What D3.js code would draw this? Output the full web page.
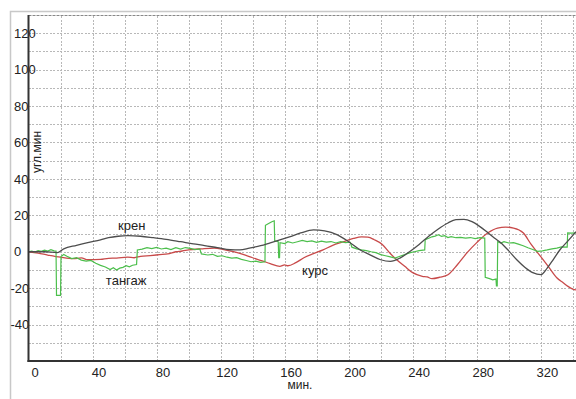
<!DOCTYPE html>
<html>
<head>
<meta charset="utf-8">
<script src="https://cdn.jsdelivr.net/npm/d3@7"></script>
<style>
  body { margin: 0; background: #fff; }
  svg { display: block; font-family: "Liberation Sans", Arial, sans-serif; }
  .grid line { stroke: #b8b8b8; stroke-dasharray: 2,1.5; shape-rendering: crispEdges; }
  .grid path { display: none; }
  .lbl { font-size: 13px; fill: #222; }
</style>
</head>
<body>
<script>
// axis ticks
var xTicks = [0, 40, 80, 120, 160, 200, 240, 280, 320];
var yTicks = [-40, -20, 0, 20, 40, 60, 80, 100, 120];
var xGrid = [20, 40, 60, 80, 100, 120, 140, 160, 180, 200, 220, 240, 260, 280, 300, 320, 340];
var yGrid = [-50, -40, -30, -20, -10, 0, 10, 20, 30, 40, 50, 60, 70, 80, 90, 100, 110, 120];

// крен (black)
var kren = [[0,0],[10,0],[18,-0.5],[22,1.6],[30,3.5],[37,5],[45,6.5],[50,7.7],[56,8.5],[62,8.8],
  [70,8.5],[78,7.7],[86,6.8],[95,5.5],[103,4.3],[110,3.4],[118,2.2],[126,1.1],[132,1],[138,2],
  [145,3.3],[151,4.9],[157,6.5],[163,8.2],[170,10.3],[178,12],[185,11.5],[193,9.3],[200,5.5],
  [207,1.1],[214,-2],[220,-4.4],[226,-5.3],[232,-3.5],[238,0],[244,4],[250,8.5],[256,12.5],
  [262,15.8],[267,17.6],[272,17.8],[277,16.5],[282,13.8],[287,10.4],[291,7.5],[295,5],[300,0.5],
  [305,-4.4],[310,-8.5],[315,-11.5],[320,-12.6],[324,-9],[328,-4],[332,1.1],[337,6],[342,11]];

// курс (red)
var kurs = [[0,0],[6,-0.8],[12,-1.8],[20,-3],[28,-3.8],[33,-3.4],[37,-4.4],[45,-4.2],[50,-3.6],
  [55,-3.5],[62,-3],[66,-3.3],[70,-2.5],[76,-2.1],[82,-1.6],[87,-1.2],[92,0],[96,0.4],[100,1],
  [108,1.6],[116,2],[122,1.2],[128,0],[134,-1.5],[140,-3.3],[146,-5],[151,-6.5],[157,-8],
  [160,-7.2],[162,-7.7],[167,-6],[172,-3.3],[178,-1],[184,1],[190,3.5],[197,5.5],[203,7.3],
  [208,8.2],[212,8],[216,6.6],[221,4],[226,-1],[230,-4.4],[235,-8],[240,-11.5],[246,-13.5],
  [249,-13.8],[252,-14.8],[257,-14],[262,-12.6],[268,-7],[274,-0.5],[280,5],[287,10.4],[293,13],
  [298,13.5],[303,13],[309,10.4],[314,4],[320,-2.7],[325,-8.5],[330,-14.3],[334,-17],[337,-19],
  [340,-20.5],[342,-21]];

// тангаж (green)
var tangazh = [[0,0],[2,0.4],[4,-0.2],[6,0.6],[8,0.2],[10,0.9],[12,0.4],[14,1.1],[16,0.5],
  [17.2,0.4],[17.5,-24],[20,-24],[20.3,-2.7],[22,-1.5],[24,-2.5],[27,-3.8],[30,-3.3],[33,-4.6],
  [36,-5.2],[39,-4.8],[42,-6.3],[45,-7.5],[48,-8.4],[51,-9.8],[53,-8.8],[55,-10],[57,-9],
  [59,-8.6],[61,-7.7],[63,-8.3],[65,-7.4],[67.5,-7],[68,1],[71,1.4],[74,2.2],[77,1.7],[80,2.4],
  [83,1.5],[86,2],[89,1.2],[92,2.2],[95,1.5],[98,2.3],[101,1.8],[104,1.2],[107,1.6],[108,-1.2],
  [112,-1.8],[115,-1.4],[118,-2.5],[121,-2.2],[124,-3],[127,-3.5],[130,-3.2],[133,-4.2],
  [136,-4.8],[139,-5.5],[142,-5.2],[145,-5.8],[147.7,-5.5],[148,14.5],[150,15.5],[152,16.5],
  [153.5,17],[153.8,6],[156,5.5],[156.3,-3.3],[156.8,-3.3],[157.1,5],[160,4.5],[162,5.5],
  [165,4.8],[168,5.5],[171,6.2],[174,5.6],[177,6],[180,5.2],[183,5.8],[186,5.3],[189,5.6],
  [192,4.8],[195,5.5],[198,5],[201,5.2],[202,2.5],[205,1.6],[208,1],[211,0.6],[214,0],
  [217,-0.5],[220,-1.6],[223,-2.2],[226,-2.8],[229,-3.5],[232,-2.5],[235,-1.6],[238,-0.6],
  [241,0],[244,0.6],[247.5,1],[247.8,6.6],[250,7.4],[252,8.2],[254,8.6],[256,9.3],[258,8.5],
  [260,8.8],[262,7.8],[264,8.3],[267,7.7],[270,7.9],[273,7.5],[276,7.8],[279,7.2],[282,7.7],
  [285,7.5],[285.3,-14],[288,-14.8],[290,-15.4],[292,-15],[292.3,-18.7],[292.8,-18.7],
  [293.1,5.5],[295,4.8],[297,5.5],[300,4.8],[303,5],[306,4.2],[309,3.3],[312,2.2],[315,1.2],
  [318,0.2],[321,0.5],[324,1],[327,1.6],[330,2],[333,2.7],[336.5,2.5],[336.8,10.4],[339,10.2],
  [342,10.4]];

// text labels for series: [name, x, y]
var seriesLabels = [["крен", 64.5, 12], ["тангаж", 61, -18], ["курс", 179, -12.8]];

var W = 576, H = 399;
var padL = 28.5, padT = 15, padB = 361;

var svg = d3.select("body").append("svg").attr("width", W).attr("height", H);

var x = d3.scaleLinear().domain([0, 342]).range([padL, W]);
var y = d3.scaleLinear().domain([-60, 130]).range([padB, padT]);

// outer frame
svg.append("rect").attr("x", 10.5).attr("y", 11.5).attr("width", W).attr("height", H)
  .attr("fill", "none").attr("stroke", "#c8c8c8").attr("stroke-width", 1.5);

// grid
svg.append("g").attr("class", "grid")
  .attr("transform", "translate(" + padL + ",0)")
  .call(d3.axisLeft(y).tickValues(yGrid).tickSize(-(W - padL)).tickFormat(""));
svg.append("g").attr("class", "grid")
  .attr("transform", "translate(0," + padB + ")")
  .call(d3.axisBottom(x).tickValues(xGrid).tickSize(-(padB - padT)).tickFormat(""));

// top border
svg.append("line").attr("x1", padL).attr("x2", W).attr("y1", padT + 0.5).attr("y2", padT + 0.5)
  .attr("stroke", "#888").attr("stroke-dasharray", "3,1");

svg.append("clipPath").attr("id", "plot").append("rect")
  .attr("x", padL).attr("y", padT).attr("width", W - padL).attr("height", padB - padT);

var line = function (curve) {
  return d3.line().x(function (d) { return x(d[0]); }).y(function (d) { return y(d[1]); }).curve(curve);
};

var plot = svg.append("g").attr("clip-path", "url(#plot)");
plot.append("path").datum(kurs).attr("d", line(d3.curveMonotoneX))
  .attr("fill", "none").attr("stroke", "#c84a4a").attr("stroke-width", 1.3);
plot.append("path").datum(tangazh).attr("d", line(d3.curveLinear))
  .attr("fill", "none").attr("stroke", "#4cbf4c").attr("stroke-width", 1.2);
plot.append("path").datum(kren).attr("d", line(d3.curveMonotoneX))
  .attr("fill", "none").attr("stroke", "#4d4d4d").attr("stroke-width", 1.3);

// axes
var ax = svg.append("g").attr("transform", "translate(0," + padB + ")")
  .call(d3.axisBottom(x).tickValues(xTicks).tickSize(0).tickPadding(7).tickFormat(d3.format("d")));
ax.select(".domain").remove();
ax.selectAll("text").attr("class", "lbl").attr("font-size", null).attr("fill", null).attr("dx", 6);

var ay = svg.append("g").attr("transform", "translate(" + padL + ",0)")
  .call(d3.axisLeft(y).tickValues(yTicks).tickSize(0)
    .tickFormat(function (d) { return d < 0 ? "-" + (-d) : String(d); }));
ay.select(".domain").remove();
ay.selectAll("text").attr("class", "lbl").attr("font-size", null).attr("fill", null)
  .attr("text-anchor", "start")
  .attr("x", function (d) { return d < 0 ? 10.5 - padL : 14 - padL; });

svg.append("line").attr("x1", padL).attr("x2", padL).attr("y1", padT).attr("y2", padB + 1)
  .attr("stroke", "#333").attr("stroke-width", 2);
svg.append("line").attr("x1", padL - 1).attr("x2", W).attr("y1", padB).attr("y2", padB)
  .attr("stroke", "#333").attr("stroke-width", 2);

// titles
svg.append("text").attr("transform", "translate(41,152) rotate(-90)")
  .attr("text-anchor", "middle").attr("font-size", 12).attr("fill", "#222").text("угл.мин");
svg.append("text").attr("x", 300).attr("y", 389)
  .attr("text-anchor", "middle").attr("font-size", 12).attr("fill", "#222").text("мин.");

svg.selectAll("text.series").data(seriesLabels).enter().append("text")
  .attr("class", "lbl series")
  .attr("x", function (d) { return x(d[1]); })
  .attr("y", function (d) { return y(d[2]); })
  .attr("text-anchor", "middle")
  .text(function (d) { return d[0]; });
</script>
</body>
</html>
